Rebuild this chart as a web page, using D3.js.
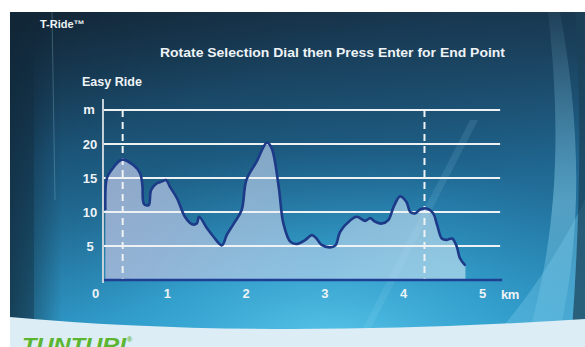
<!DOCTYPE html>
<html>
<head>
<meta charset="utf-8">
<script src="https://cdn.jsdelivr.net/npm/d3@7"></script>
<style>
  html, body { margin: 0; padding: 0; background: #fff; }
  svg { display: block; font-family: "Liberation Sans", Arial, sans-serif; }
</style>
</head>
<body>
<svg class="screen" width="585" height="347"></svg>
<script>
// route profile (km, metres)
const distKm = [0.22, 0.24, 0.30, 0.43, 0.575, 0.66, 0.69, 0.71, 0.77, 0.80, 0.87, 0.94, 0.99, 1.04, 1.13, 1.23,
  1.32, 1.38, 1.41, 1.51, 1.59, 1.70, 1.76, 1.85, 1.95, 2.01, 2.14, 2.27, 2.33, 2.42, 2.48, 2.57, 2.65, 2.76,
  2.84, 2.90, 2.96, 3.07, 3.14, 3.20, 3.33, 3.41, 3.52, 3.58, 3.64, 3.73, 3.81, 3.88, 3.96, 4.04, 4.09, 4.15,
  4.22, 4.30, 4.38, 4.43, 4.49, 4.55, 4.62, 4.68, 4.72, 4.79];
const elevM = [10.3, 15.0, 16.2, 17.7, 16.9, 15.7, 14.0, 11.2, 11.0, 13.2, 14.2, 14.5, 14.7, 13.7, 12.0, 9.3,
  8.2, 8.3, 9.3, 7.6, 6.4, 5.1, 6.6, 8.3, 10.3, 14.7, 17.4, 20.2, 19.4, 13.7, 8.3, 5.6, 5.3, 5.9,
  6.6, 6.1, 5.2, 4.8, 5.1, 7.1, 8.8, 9.3, 8.7, 9.1, 8.6, 8.3, 8.8, 10.8, 12.3, 11.5, 10.0, 9.8,
  10.4, 10.5, 9.8, 8.1, 6.1, 5.9, 6.1, 4.9, 3.2, 2.1];
const xTicks = [0, 1, 2, 3, 4, 5];
const yTicks = [5, 10, 15, 20];
const gridLevels = [5, 10, 15, 20, 25];
const segmentMarks = [0.44, 4.27]; // start / end point selectors
const headerText = "T-Ride\u2122";
const promptText = "Rotate Selection Dial then Press Enter for End Point";
const programText = "Easy Ride";
const brandText = "TUNTURI";

const svg = d3.select(".screen");
const defs = svg.append("defs");

function gradient(id, type, attrs, stops) {
  const g = defs.append(type).attr("id", id);
  Object.entries(attrs).forEach(([k, v]) => g.attr(k, v));
  stops.forEach(s => g.append("stop").attr("offset", s[0]).attr("stop-color", s[1]).attr("stop-opacity", s[2]));
  return g;
}

// ---- screen background ----
gradient("bgBase", "linearGradient", { x1: 0, y1: 0, x2: 0, y2: 1 },
  [[0, "#1b3c56", 1], [0.45, "#1f6690", 1], [1, "#2f9ccb", 1]]);
gradient("bgGlow", "radialGradient", { cx: 0.55, cy: 1.0, r: 0.6 },
  [[0, "#5fcbee", 0.9], [0.5, "#3cb0dc", 0.5], [1, "#2a8cc0", 0]]);
gradient("leftShade", "linearGradient", { x1: 0, y1: 0, x2: 1, y2: 0 },
  [[0, "#0f2232", 0.6], [0.45, "#0f2232", 0.35], [1, "#0f2232", 0]]);
gradient("topShade", "linearGradient", { x1: 0, y1: 0, x2: 0.45, y2: 0.75 },
  [[0, "#0f1e2a", 0.75], [0.45, "#10273a", 0.25], [1, "#10273a", 0]]);
gradient("streak", "linearGradient", { x1: 0, y1: 0, x2: 0, y2: 1 },
  [[0, "#9fdcf2", 0.05], [0.6, "#8fd6f0", 0.45], [1, "#8fd6f0", 0.2]]);
gradient("profileFill", "linearGradient", { x1: 0, y1: 0, x2: 1, y2: 0 },
  [[0, "#aebcdc", 0.8], [0.6, "#bcd4ec", 0.62], [1, "#d2eaf6", 0.6]]);

const bg = svg.append("g").attr("class", "background");
bg.append("rect").attr("x", 10).attr("y", 12).attr("width", 575).attr("height", 335).attr("fill", "url(#bgBase)");
bg.append("rect").attr("x", 10).attr("y", 12).attr("width", 575).attr("height", 335).attr("fill", "url(#bgGlow)");
bg.append("rect").attr("x", 10).attr("y", 12).attr("width", 575).attr("height", 335).attr("fill", "url(#topShade)");
bg.append("path").attr("d", "M10,12 L58,12 C62,120 64,220 60,335 L10,335 Z").attr("fill", "url(#leftShade)");
bg.append("rect").attr("x", 10).attr("y", 12).attr("width", 24).attr("height", 320).attr("fill", "#122a3c").attr("opacity", 0.35);
bg.append("line").attr("x1", 52).attr("y1", 12).attr("x2", 55).attr("y2", 200)
  .attr("stroke", "#8fc8e0").attr("stroke-opacity", 0.3).attr("stroke-width", 1);
// light streaks on the right side
bg.append("path").attr("d", "M548,12 C560,120 560,220 530,330 L560,330 C585,220 578,110 560,12 Z")
  .attr("fill", "url(#streak)");
bg.append("path").attr("d", "M585,200 C560,250 530,295 500,330 L585,330 Z")
  .attr("fill", "#7ccbea").attr("opacity", 0.35);
bg.append("path").attr("d", "M575,12 L585,12 L585,330 L572,330 C580,220 582,110 575,12 Z")
  .attr("fill", "#1b4258").attr("opacity", 0.7);
bg.append("path").attr("d", "M470,120 L478,120 L370,330 L362,330 Z")
  .attr("fill", "#a8e0f4").attr("opacity", 0.12);

// bottom light band with the brand
bg.append("path").attr("d", "M10,317 Q260,340 585,319 L585,347 L10,347 Z").attr("fill", "#dcedf6");
svg.append("text").attr("x", 22).attr("y", 352)
  .attr("font-size", 20).attr("font-weight", 900).attr("font-style", "italic")
  .attr("textLength", 104).attr("lengthAdjust", "spacingAndGlyphs")
  .attr("fill", "#5cb531").text(brandText);
svg.append("text").attr("x", 127).attr("y", 342)
  .attr("font-size", 7).attr("font-weight", 700).attr("fill", "#5cb531").text("\u00ae");

// ---- scales ----
const x = d3.scaleLinear().domain([0, 5]).range([88, 482]);
const y = d3.scaleLinear().domain([0, 25]).range([280, 110]);
const plotLeft = x(0.19), plotRight = x(5.23);

// ---- texts ----
const textColor = "#eef3f6";
svg.append("text").attr("x", 40).attr("y", 28).attr("font-size", 11).attr("font-weight", 700)
  .attr("fill", textColor).text(headerText);
svg.append("text").attr("x", 160).attr("y", 57).attr("font-size", 13.5).attr("font-weight", 700)
  .attr("textLength", 345).attr("lengthAdjust", "spacingAndGlyphs")
  .attr("fill", textColor).text(promptText);
svg.append("text").attr("x", 82).attr("y", 86).attr("font-size", 13).attr("font-weight", 700)
  .attr("textLength", 60).attr("lengthAdjust", "spacingAndGlyphs")
  .attr("fill", textColor).text(programText);

// ---- profile ----
const pts = distKm.map((d, i) => [d, elevM[i]]);
const area = d3.area().x(d => x(d[0])).y0(y(0)).y1(d => y(d[1])).curve(d3.curveCatmullRom.alpha(0.5));
const line = d3.line().x(d => x(d[0])).y(d => y(d[1])).curve(d3.curveCatmullRom.alpha(0.5));

svg.append("path").datum(pts).attr("d", area).attr("fill", "url(#profileFill)");

// grid lines
svg.append("g").selectAll("line").data(gridLevels).join("line")
  .attr("x1", plotLeft).attr("x2", plotRight)
  .attr("y1", d => y(d)).attr("y2", d => y(d))
  .attr("stroke", "#eef2f4").attr("stroke-width", 2);

// start / end markers
svg.append("g").selectAll("line").data(segmentMarks).join("line")
  .attr("x1", d => x(d)).attr("x2", d => x(d))
  .attr("y1", y(25)).attr("y2", y(0))
  .attr("stroke", "#eef2f4").attr("stroke-width", 2).attr("stroke-dasharray", "7,5");

svg.append("path").datum(pts).attr("d", line)
  .attr("fill", "none").attr("stroke", "#1c3a88").attr("stroke-width", 2.6);

// axis lines
svg.append("line").attr("x1", plotLeft).attr("x2", plotRight + 2).attr("y1", y(0)).attr("y2", y(0))
  .attr("stroke", "#1f3f92").attr("stroke-width", 2.5);
svg.append("line").attr("x1", plotLeft).attr("x2", plotLeft).attr("y1", 99).attr("y2", 283)
  .attr("stroke", "#c9d3da").attr("stroke-width", 2);

// y labels
const yAxis = svg.append("g").attr("transform", "translate(90,0)")
  .call(d3.axisLeft(y).tickValues(yTicks).tickSize(0).tickPadding(0));
yAxis.select(".domain").remove();
yAxis.selectAll("text").attr("text-anchor", "middle").attr("fill", textColor)
  .attr("font-size", 13).attr("font-weight", 700).attr("font-family", "Liberation Sans, Arial, sans-serif");
svg.append("text").attr("x", 89).attr("y", y(25)).attr("dy", "0.32em").attr("text-anchor", "middle")
  .attr("font-size", 13).attr("font-weight", 700).attr("fill", textColor).text("m");

// x labels
const xAxis = svg.append("g").attr("transform", `translate(0,${y(0)})`)
  .call(d3.axisBottom(x).tickValues(xTicks).tickSize(0).tickPadding(9).tickFormat(d3.format("d")));
xAxis.select(".domain").remove();
xAxis.selectAll("text").attr("fill", textColor).attr("font-size", 13).attr("font-weight", 700)
  .attr("font-family", "Liberation Sans, Arial, sans-serif")
  .attr("dx", d => d === 0 ? 7 : 0);
svg.append("text").attr("x", 510).attr("y", y(0)).attr("dy", 9 + 13 * 0.71 + 1).attr("text-anchor", "middle")
  .attr("font-size", 13).attr("font-weight", 700).attr("letter-spacing", -0.5).attr("fill", textColor).text("km");
</script>
</body>
</html>
